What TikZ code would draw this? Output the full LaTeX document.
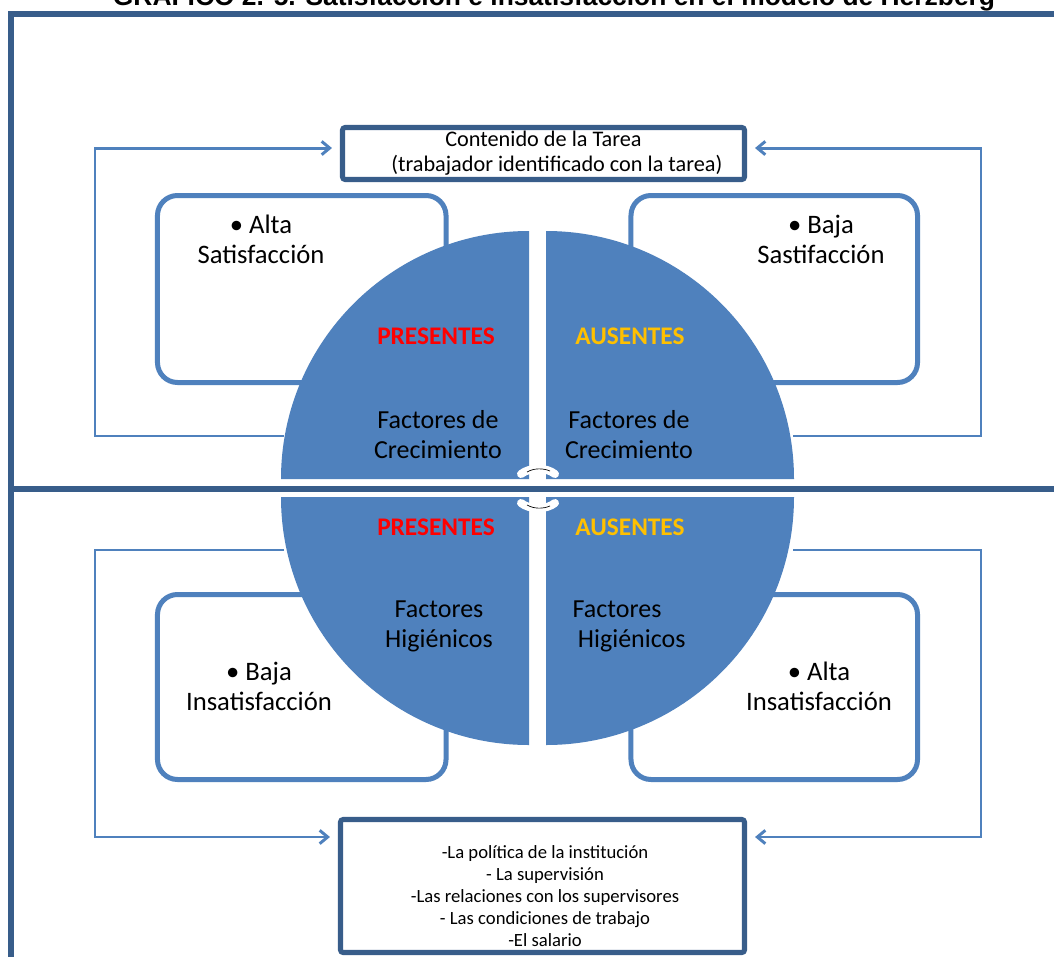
\documentclass[tikz,border=0pt]{standalone}
\usepackage{fontspec}
\setmainfont{Carlito}
\newfontfamily\arialfont{Liberation Sans}
\usepackage{tikz}
\usetikzlibrary{positioning, arrows.meta}
\definecolor{smartblue}{HTML}{4F81BD}
\definecolor{darkblue}{HTML}{385D8A}
\definecolor{presred}{HTML}{FF0000}
\definecolor{ausgold}{HTML}{FFC000}

\tikzset{
  frameline/.style={draw=darkblue, line width=4.5pt},
  loopline/.style={draw=smartblue, line width=2.2pt, -{Straight Barb[length=6pt, width=10pt]}},
  factorbox/.style={draw=darkblue, line width=3.8pt, rounded corners=2pt, fill=white, inner sep=0pt, align=center},
  feelbox/.style={draw=smartblue, line width=3.75pt, rounded corners=15pt, inner sep=0pt},
  feeltext/.style={font=\fontsize{20}{22.5}\selectfont, align=center},
  quadtext/.style={font=\fontsize{19.5}{22.5}\selectfont, align=center},
  quadhead/.style={font=\fontsize{19}{22}\selectfont\bfseries}
}

\begin{document}
\begin{tikzpicture}[x=0.75pt, y=-0.75pt]
  \useasboundingbox[fill=white] (0,0) rectangle (1054,957);

  % title, cut at the top edge
  \node[font=\arialfont\bfseries\fontsize{19.8}{22}\selectfont, anchor=base] (titulo) at (554,5)
    {GRAFICO 2. 5. Satisfacción e insatisfacción en el modelo de Herzberg};

  % frame
  \draw[frameline] (1054,13.5) -| (11,957);
  \draw[frameline] (11,488.5) -- (1054,488.5);

  % factor boxes
  \node[factorbox, minimum width=301.5pt, minimum height=39pt,
        font=\fontsize{16.7}{18.75}\selectfont] (tarea) at (543.5,153.5)
    {Contenido de la Tarea\\ \hspace*{1.2em}(trabajador identificado con la tarea)};
  \node[factorbox, minimum width=303pt, minimum height=99.75pt] (higbox) at (542.5,886) {};
  \node[font=\fontsize{14}{16.5}\selectfont, align=center] (higtext) at (545,896)
    {-La política de la institución\\ - La supervisión\\ -Las relaciones con los supervisores\\
     - Las condiciones de trabajo\\ -El salario};

  % feedback loops
  \coordinate (ulfoot) at (284,436);
  \coordinate (urfoot) at (793,436);
  \coordinate (llfoot) at (284,550);
  \coordinate (lrfoot) at (793,550);
  \coordinate (leftrail) at (95,0);
  \coordinate (rightrail) at (981,0);
  \draw[loopline] (ulfoot) -- (ulfoot -| leftrail) |- ([xshift=-6pt, yshift=4.1pt]tarea.west);
  \draw[loopline] (urfoot) -- (urfoot -| rightrail) |- ([xshift=6pt, yshift=4.1pt]tarea.east);
  \draw[loopline] (llfoot) -- (llfoot -| leftrail) |- ([xshift=-6pt, yshift=36.75pt]higbox.west);
  \draw[loopline] (lrfoot) -- (lrfoot -| rightrail) |- ([xshift=6pt, yshift=36.75pt]higbox.east);

  % satisfaction boxes
  \node[feelbox, minimum width=216.4pt, minimum height=140.25pt] (altasatbox) at (301.75,289) {};
  \node[feelbox, minimum width=214.9pt, minimum height=140.25pt] (bajasatbox) at (774.25,289) {};
  \node[feelbox, minimum width=216.4pt, minimum height=138.75pt] (bajainsbox) at (301.75,687) {};
  \node[feelbox, minimum width=214.9pt, minimum height=138.75pt] (altainsbox) at (774.25,687) {};
  \node[feeltext] (altasat) at (261,239) {• Alta\\Satisfacción};
  \node[feeltext] (bajasat) at (821,239) {• Baja\\Sastifacción};
  \node[feeltext] (bajains) at (259,686) {• Baja\\Insatisfacción};
  \node[feeltext] (altains) at (819,686) {• Alta\\Insatisfacción};

  % the four quarters
  \foreach \cx/\cy/\a in {529/479/180, 546/479/270, 529/497/90, 546/497/0}
    \fill[smartblue] (\cx,\cy) -- ++(\a:248) arc[start angle=\a, end angle=\a+90, radius=248] -- cycle;

  % small turn marks
  \draw[white, line width=6pt, line cap=round] (521,474) .. controls (530,467) and (546,467) .. (555,474);
  \draw[black, line width=0.5pt] (527,472) .. controls (534,468) and (543,468) .. (550,471);
  \draw[white, line width=6pt, line cap=round] (521,503) .. controls (530,510) and (546,510) .. (555,503);
  \draw[black, line width=0.5pt] (527,505) .. controls (534,509) and (543,509) .. (550,506);

  \node[quadhead, text=presred] (pres1) at (436,336) {PRESENTES};
  \node[quadhead, text=ausgold] (aus1) at (630,336) {AUSENTES};
  \node[quadtext] (crec1) at (438,434.5) {Factores de\\Crecimiento};
  \node[quadtext] (crec2) at (629,434.5) {Factores de\\Crecimiento};
  \node[quadhead, text=presred] (pres2) at (436,527) {PRESENTES};
  \node[quadhead, text=ausgold] (aus2) at (630,527) {AUSENTES};
  \node[quadtext] (hig1) at (439,626) {Factores\\Higiénicos};
  \node[quadtext, align=left, anchor=west] (hig2) at (568,626) {Factores\\\hspace*{0.2em}Higiénicos};
\end{tikzpicture}
\end{document}
